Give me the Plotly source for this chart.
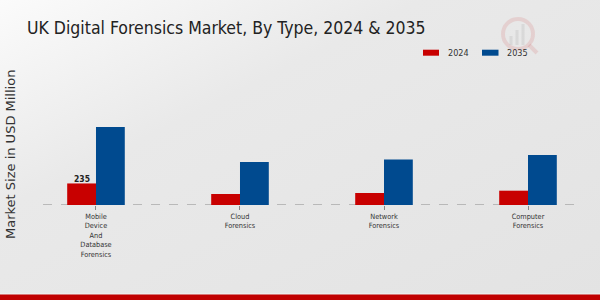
import plotly.graph_objects as go

categories = ["Mobile<br>Device<br>And<br>Database<br>Forensics", "Cloud<br>Forensics",
              "Network<br>Forensics", "Computer<br>Forensics"]
series_names = ["2024", "2035"]
values_2024 = [235, 120, 131, 156]
values_2035 = [850, 469, 497, 545]
bar_labels_2024 = ["235", "", "", ""]
colors = ["#c80000", "#004a8f"]

W, H = 600, 300
ML, MR, MT, MB = 43, 18, 100, 95

def px(x):
    return (x - ML) / (W - ML - MR)

def py(y):
    return (H - MB - y) / (H - MT - MB)

fc = "DejaVu Sans Condensed, DejaVu Sans"

fig = go.Figure()
fig.add_trace(go.Bar(x=categories, y=values_2024, name=series_names[0], marker_color=colors[0],
                     marker_line_width=0, offsetgroup="a", showlegend=False))
fig.add_trace(go.Bar(x=categories, y=values_2035, name=series_names[1], marker_color=colors[1],
                     marker_line_width=0, offsetgroup="b", showlegend=False))

grad_svg = ("data:image/svg+xml;utf8,<svg xmlns='http://www.w3.org/2000/svg' width='600' height='300'>"
            "<defs><linearGradient id='g' x1='0' y1='0' x2='1' y2='1'>"
            "<stop offset='0' stop-color='%23fbfbfb'/><stop offset='0.35' stop-color='%23e9e9e9'/>"
            "<stop offset='1' stop-color='%23e3e3e3'/></linearGradient></defs>"
            "<rect width='600' height='300' fill='url(%23g)'/></svg>")

shapes = [
    dict(type="line", xref="paper", yref="y", x0=0, x1=1, y0=0, y1=0,
         line=dict(color="#8a8a8a", width=1, dash="dash"), layer="below"),
    dict(type="rect", xref="paper", yref="paper", x0=px(0), x1=px(W), y0=py(293.5), y1=py(294.5),
         line_width=0, fillcolor="#f4f4f4"),
    dict(type="rect", xref="paper", yref="paper", x0=px(0), x1=px(W), y0=py(294.5), y1=py(301),
         line_width=0, fillcolor="#c00000"),
    # legend swatches
    dict(type="rect", xref="paper", yref="paper", x0=px(423), x1=px(439), y0=py(55.7), y1=py(49.7),
         line_width=0, fillcolor=colors[0]),
    dict(type="rect", xref="paper", yref="paper", x0=px(482), x1=px(498.5), y0=py(55.7), y1=py(49.7),
         line_width=0, fillcolor=colors[1]),
    # faint watermark
    dict(type="circle", xref="paper", yref="paper", x0=px(503), x1=px(533), y0=py(49), y1=py(19),
         line=dict(color="rgba(200,0,0,0.10)", width=4)),
    dict(type="line", xref="paper", yref="paper", x0=px(529), x1=px(537), y0=py(45), y1=py(53),
         line=dict(color="rgba(200,0,0,0.10)", width=4)),
    dict(type="line", xref="paper", yref="paper", x0=px(511), x1=px(511), y0=py(45), y1=py(36),
         line=dict(color="rgba(150,150,150,0.18)", width=3)),
    dict(type="line", xref="paper", yref="paper", x0=px(517), x1=px(517), y0=py(45), y1=py(30),
         line=dict(color="rgba(150,150,150,0.18)", width=3)),
    dict(type="line", xref="paper", yref="paper", x0=px(523), x1=px(523), y0=py(45), y1=py(24),
         line=dict(color="rgba(150,150,150,0.18)", width=3)),
]

annotations = [
    dict(text="UK Digital Forensics Market, By Type, 2024 & 2035", xref="paper", yref="paper",
         x=px(25), y=py(28), xanchor="left", yanchor="middle", showarrow=False,
         font=dict(family=fc, size=17.5, color="#222")),
    dict(text="Market Size in USD Million", xref="paper", yref="paper", x=px(10), y=py(155),
         xanchor="center", yanchor="middle", textangle=-90, showarrow=False,
         font=dict(family="DejaVu Sans", size=13, color="#333")),
    dict(text=series_names[0], xref="paper", yref="paper", x=px(445.5), y=py(52.7),
         xanchor="left", yanchor="middle", showarrow=False, font=dict(family=fc, size=9, color="#333")),
    dict(text=series_names[1], xref="paper", yref="paper", x=px(504.5), y=py(52.7),
         xanchor="left", yanchor="middle", showarrow=False, font=dict(family=fc, size=9, color="#333")),
]

# value label above the first 2024 bar, placed through the axes
for i, (cat, val, lab) in enumerate(zip(categories, values_2024, bar_labels_2024)):
    if lab:
        annotations.append(dict(text=f"<b>{lab}</b>", xref="x", yref="y", x=i - 0.1, y=val,
                                xanchor="center", yanchor="bottom", showarrow=False, borderpad=0,
                                yshift=-2, font=dict(family=fc, size=8.5, color="#222")))

fig.update_layout(
    width=W, height=H, margin=dict(l=ML, r=MR, t=MT, b=MB, pad=0),
    paper_bgcolor="#e8e8e8", plot_bgcolor="rgba(0,0,0,0)",
    barmode="group", bargap=0.6, bargroupgap=0,
    shapes=shapes, annotations=annotations,
    images=[dict(source=grad_svg, xref="paper", yref="paper", x=px(0), y=py(0), sizex=px(W) - px(0),
                 sizey=py(0) - py(H), xanchor="left", yanchor="top", sizing="stretch", layer="below")],
    xaxis=dict(range=[-0.368, 3.375], showgrid=False, zeroline=False, showline=False,
               ticks="outside", ticklen=4, tickcolor="#888", tickwidth=1,
               tickfont=dict(family=fc, size=7.3, color="#333")),
    yaxis=dict(range=[0, 1145], visible=False, showgrid=False, zeroline=False),
)

fig.write_html("out.html")
